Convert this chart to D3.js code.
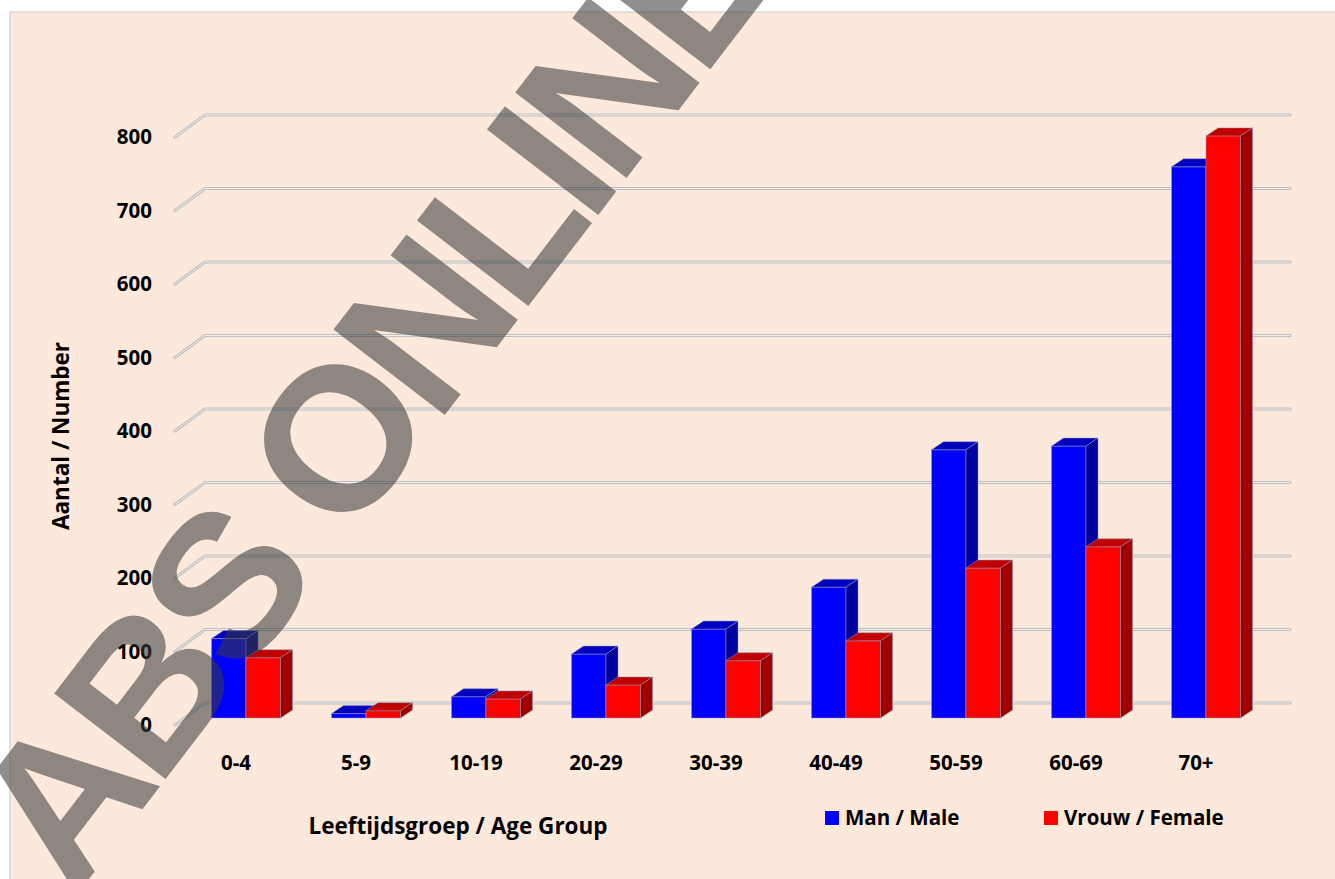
<!DOCTYPE html>
<html>
<head>
<meta charset="utf-8">
<script src="https://cdn.jsdelivr.net/npm/d3@7"></script>
<style>
body { margin: 0; background: #fff; }
text { font-family: "Open Sans", "Noto Sans", sans-serif; font-weight: bold; fill: #000; }
</style>
</head>
<body>
<div id="chart"></div>
<script>
// Gegevens
var categories   = ['0-4', '5-9', '10-19', '20-29', '30-39', '40-49', '50-59', '60-69', '70+'];
var male         = [108, 6, 29, 87, 121, 178, 365, 370, 750];
var female       = [82, 10, 26, 45, 78, 105, 204, 233, 792];
var y_ticks      = [0, 100, 200, 300, 400, 500, 600, 700, 800];
var series_names = ['Man / Male', 'Vrouw / Female'];

var chart_width  = 1335;
var chart_height = 879;
var font_size    = 20.5;
var title_size   = 22.5;

var colors = [
    { front: '#0000FF', top: '#0000C0', side: '#00009E' },
    { front: '#FF0000', top: '#C00000', side: '#A00000' }
];

var svg = d3.select('#chart')
    .append('svg')
    .attr('width', chart_width)
    .attr('height', chart_height);

// achtergrond
svg.append('rect')
    .attr('x', 10).attr('y', 12)
    .attr('width', chart_width).attr('height', chart_height)
    .attr('fill', '#FCE9DC')
    .attr('stroke', '#D9D9D9')
    .attr('stroke-width', 1.5);

// schalen
var y_scale = d3.scaleLinear()
    .domain([0, 800])
    .range([703, 115]);

var x_scale = d3.scaleBand()
    .domain(categories)
    .range([186, 1266])
    .paddingInner(0.425)
    .paddingOuter(0.2125);

var x_inner = d3.scaleBand()
    .domain([0, 1])
    .range([0, x_scale.bandwidth()]);

// 3D offsets
var grid_dx = 30, grid_dy = 22;   // diepte rasterlijnen
var bar_dx = 12, bar_dy = 8;      // diepte balken
var bar_shift = 15;               // voorvlak balk t.o.v. achterwand

// rasterlijnen
var grid = svg.append('g');
function gridPath(d) {
    var y = y_scale(d);
    return 'M175,' + (y + grid_dy) + 'L' + (175 + grid_dx) + ',' + y + 'L1290,' + y;
}
grid.selectAll('path.outer')
    .data(y_ticks)
    .enter()
    .append('path')
    .attr('class', 'outer')
    .attr('d', gridPath)
    .attr('fill', 'none')
    .attr('stroke', '#BFBFBF')
    .attr('stroke-width', 3)
    .attr('stroke-linecap', 'round');
grid.selectAll('path.inner')
    .data(y_ticks)
    .enter()
    .append('path')
    .attr('class', 'inner')
    .attr('d', gridPath)
    .attr('fill', 'none')
    .attr('stroke', '#EEEEEE')
    .attr('stroke-width', 1);

// y-as labels
svg.append('g')
    .selectAll('text')
    .data(y_ticks)
    .enter()
    .append('text')
    .text(function(d) { return d; })
    .attr('x', 152)
    .attr('y', function(d) { return y_scale(d) + grid_dy; })
    .attr('dy', '0.35em')
    .attr('font-size', font_size)
    .attr('text-anchor', 'end');

// balken
var bar_data = [];
categories.forEach(function(c, i) {
    [male, female].forEach(function(s, j) {
        bar_data.push({ cat: c, s: j, v: s[i] });
    });
});

var bars = svg.append('g')
    .selectAll('g')
    .data(bar_data)
    .enter()
    .append('g');

function geo(d) {
    var x0 = x_scale(d.cat) + x_inner(d.s);
    var w = x_inner.bandwidth();
    var yt = y_scale(d.v) + bar_shift;
    var yb = y_scale(0) + bar_shift;
    return { x0: x0, w: w, yt: yt, yb: yb };
}

bars.append('rect')
    .attr('x', function(d) { return geo(d).x0; })
    .attr('y', function(d) { return geo(d).yt; })
    .attr('width', function(d) { return geo(d).w; })
    .attr('height', function(d) { var g = geo(d); return g.yb - g.yt; })
    .attr('fill', function(d) { return colors[d.s].front; });

bars.append('path')
    .attr('d', function(d) {
        var g = geo(d);
        return 'M' + g.x0 + ',' + g.yt +
            'L' + (g.x0 + bar_dx) + ',' + (g.yt - bar_dy) +
            'L' + (g.x0 + g.w + bar_dx) + ',' + (g.yt - bar_dy) +
            'L' + (g.x0 + g.w) + ',' + g.yt + 'Z';
    })
    .attr('fill', function(d) { return colors[d.s].top; });

bars.append('path')
    .attr('d', function(d) {
        var g = geo(d);
        return 'M' + (g.x0 + g.w) + ',' + g.yt +
            'L' + (g.x0 + g.w + bar_dx) + ',' + (g.yt - bar_dy) +
            'L' + (g.x0 + g.w + bar_dx) + ',' + (g.yb - bar_dy) +
            'L' + (g.x0 + g.w) + ',' + g.yb + 'Z';
    })
    .attr('fill', function(d) { return colors[d.s].side; });

bars.selectAll('rect, path')
    .attr('stroke', 'rgba(150,150,180,0.7)')
    .attr('stroke-width', 0.75)
    .attr('stroke-linejoin', 'round');

// categorie labels
svg.append('g')
    .selectAll('text')
    .data(categories)
    .enter()
    .append('text')
    .text(function(d) { return d; })
    .attr('x', function(d) { return x_scale(d) + x_scale.bandwidth() / 2 - 10; })
    .attr('y', 763)
    .attr('dy', '0.35em')
    .attr('font-size', font_size)
    .attr('text-anchor', 'middle');

// as titels
svg.append('text')
    .text('Leeftijdsgroep / Age Group')
    .attr('x', 458)
    .attr('y', 826)
    .attr('dy', '0.35em')
    .attr('font-size', title_size)
    .attr('text-anchor', 'middle');

svg.append('text')
    .text('Aantal / Number')
    .attr('transform', 'translate(61,436) rotate(-90)')
    .attr('dy', '0.35em')
    .attr('font-size', title_size)
    .attr('text-anchor', 'middle');

// legenda
var legend = svg.append('g')
    .selectAll('g')
    .data(series_names)
    .enter()
    .append('g')
    .attr('transform', function(d, i) { return 'translate(' + (825 + i * 219) + ',811)'; });

legend.append('rect')
    .attr('width', 14)
    .attr('height', 14)
    .attr('fill', function(d, i) { return colors[i].front; });

legend.append('text')
    .text(function(d) { return d; })
    .attr('x', 20)
    .attr('y', 7)
    .attr('dy', '0.35em')
    .attr('font-size', font_size);

// watermerk
svg.append('text')
    .text('LABS ONLINE')
    .attr('transform', 'translate(333,440) rotate(-52.5)')
    .attr('dy', '0.36em')
    .attr('text-anchor', 'middle')
    .attr('font-size', 204)
    .attr('letter-spacing', -10)
    .style('font-family', '"Liberation Sans", Arial, sans-serif')
    .style('fill', 'rgb(58,58,58)')
    .style('fill-opacity', 0.57);
</script>
</body>
</html>
